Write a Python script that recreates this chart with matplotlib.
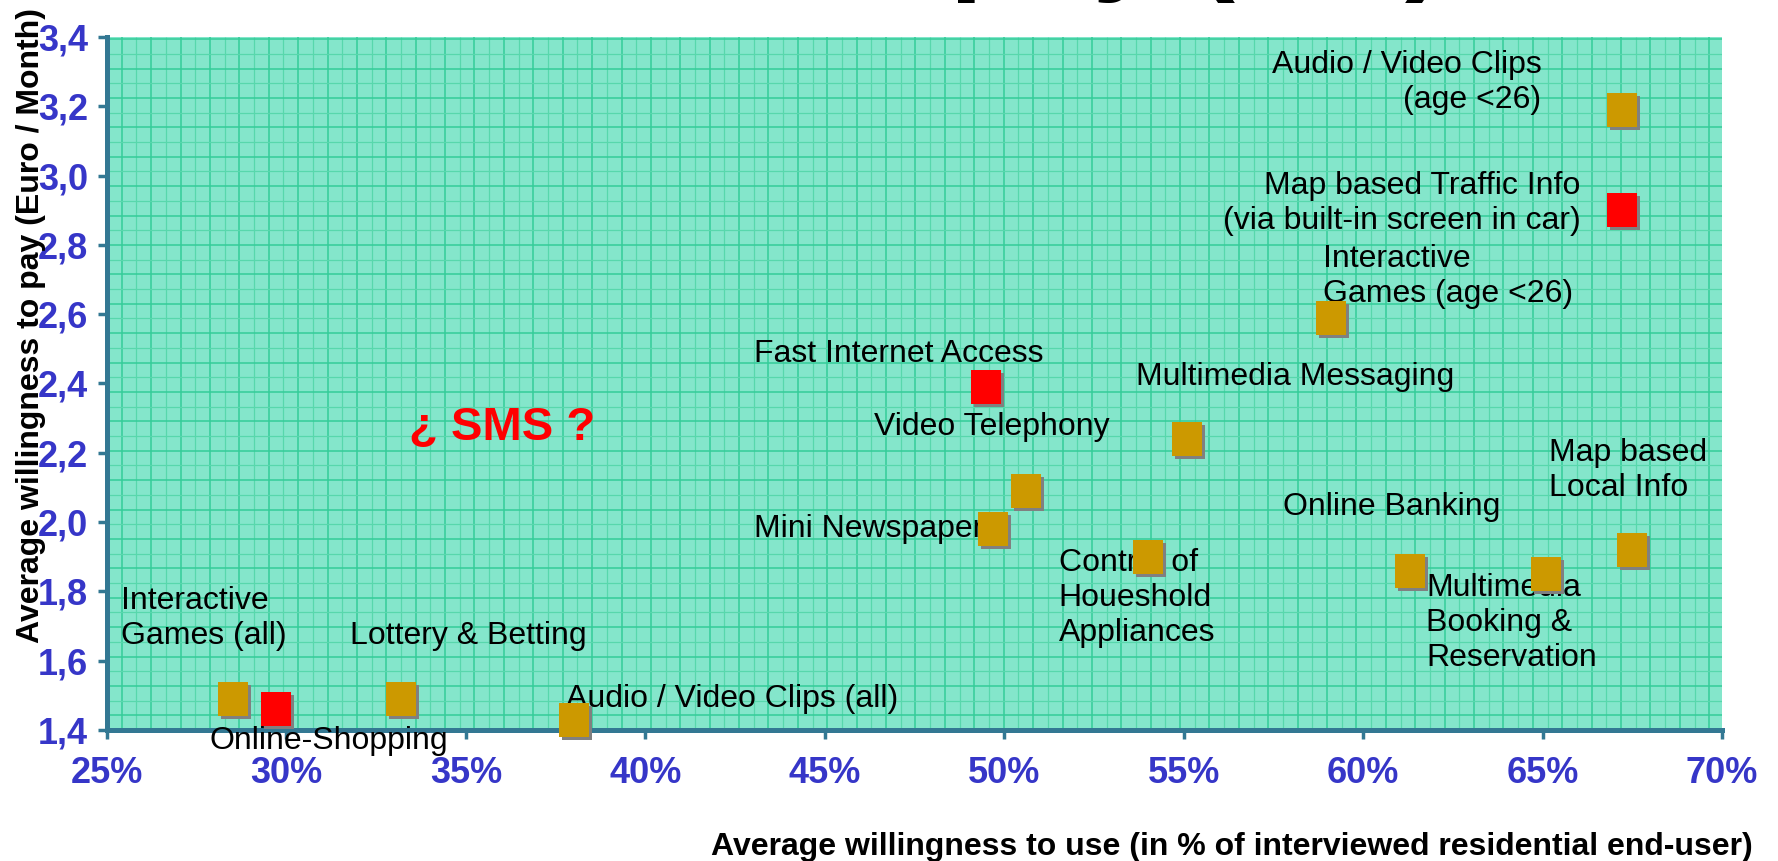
import matplotlib
matplotlib.use('Agg')
import matplotlib.pyplot as plt
from matplotlib.transforms import offset_copy
import numpy as np

plt.rcParams['font.family'] = ['Liberation Sans', 'DejaVu Sans']

# services: willingness to use (%) vs willingness to pay (Euro / month)
services = ['Interactive\nGames (all)', 'Online-Shopping', 'Lottery & Betting',
            'Audio / Video Clips (all)', 'Fast Internet Access', 'Mini Newspaper',
            'Video Telephony', 'Control of\nHoueshold\nAppliances',
            'Multimedia Messaging', 'Interactive\nGames (age <26)', 'Online Banking',
            'Multimedia\nBooking &\nReservation', 'Map based\nLocal Info',
            'Audio / Video Clips\n(age <26)',
            'Map based Traffic Info\n(via built-in screen in car)']
use_pct = [28.5, 29.7, 33.2, 38.0, 49.5, 49.7, 50.6, 54.0, 55.1, 59.1, 61.3, 65.1, 67.5, 67.2, 67.2]
pay_eur = [1.49, 1.46, 1.49, 1.43, 2.39, 1.98, 2.09, 1.90, 2.24, 2.59, 1.86, 1.85, 1.92, 3.19, 2.90]
highlight = [False, True, False, False, True, False, False, False,
             False, False, False, False, False, False, True]

x_ticks = [25, 30, 35, 40, 45, 50, 55, 60, 65, 70]
y_ticks = [1.4, 1.6, 1.8, 2.0, 2.2, 2.4, 2.6, 2.8, 3.0, 3.2, 3.4]

# label placement: pixel offset of the first line's baseline from the marker
label_pos = [(-112, 90, 'left'), (-66, -40, 'left'), (-51, 55, 'left'),
             (-8, 13, 'left'), (-232, 25, 'left'), (-10, -8, 'right'),
             (-152, 56, 'left'), (-89, -14, 'left'), (-51, 54, 'left'),
             (-8, 51, 'left'), (-127, 56, 'left'), (-120, -22, 'left'),
             (-83, 89, 'left'), (-80, 37, 'right'), (-41, 16, 'right')]
LINE_PX = 35

AX_COL = '#337893'
TICK_COL = '#3636C8'
BG = '#84E6CB'

fig = plt.figure(figsize=(17.78, 8.61), dpi=100)
ax = fig.add_axes([107/1778, 131/861, 1615/1778, 693/861])
ax.set_facecolor(BG)
ax.set_xlim(25, 70)
ax.set_ylim(1.4, 3.4)

# background grid pattern
step_x = 14.7 / 1615
step_y = 14.7 / 693
gx = np.arange(step_x, 1, step_x)
gy = np.arange(step_y, 1, step_y)
ax.vlines(gx[::2], 0, 1, transform=ax.transAxes, color='#34CC99', lw=1.1, zorder=0.5)
ax.vlines(gx[1::2], 0, 1, transform=ax.transAxes, color='#58D7AC', lw=0.9, zorder=0.5)
ax.hlines(gy[::2], 0, 1, transform=ax.transAxes, color='#34CC99', lw=1.1, zorder=0.5)
ax.hlines(gy[1::2], 0, 1, transform=ax.transAxes, color='#58D7AC', lw=0.9, zorder=0.5)

for s in ['top', 'right']:
    ax.spines[s].set_visible(False)
for s in ['left', 'bottom']:
    ax.spines[s].set_color(AX_COL)
    ax.spines[s].set_linewidth(3.6)
    ax.spines[s].set_zorder(2)

ax.set_xticks(x_ticks)
ax.set_xticklabels([f'{v}%' for v in x_ticks])
ax.set_yticks(y_ticks)
ax.set_yticklabels([f'{v:.1f}'.replace('.', ',') for v in y_ticks])
ax.tick_params(axis='both', direction='out', length=6.5, width=2.5, color=AX_COL,
               labelsize=26, labelcolor=TICK_COL)
ax.tick_params(axis='x', pad=12)
ax.tick_params(axis='y', pad=7)
for lab in ax.get_xticklabels() + ax.get_yticklabels():
    lab.set_fontweight('bold')

# square markers with a grey drop shadow
mk = [(-0.45, -0.5), (0.45, -0.5), (0.45, 0.5), (-0.45, 0.5), (-0.45, -0.5)]
colors = ['#FF0000' if h else '#CC9900' for h in highlight]
shadow = offset_copy(ax.transData, fig=fig, x=3, y=-3, units='dots')
for xv, yv, c in zip(use_pct, pay_eur, colors):
    ax.plot(xv, yv, marker=mk, ms=23.8, color='#808080', mew=0, ls='none',
            transform=shadow, zorder=3.5, clip_on=False)
    ax.plot(xv, yv, marker=mk, ms=23.8, color=c, mew=0, ls='none',
            zorder=4, clip_on=False)

# va='baseline' anchors the last line, so step down for multi-line labels
for name, xv, yv, (dx, dy, ha) in zip(services, use_pct, pay_eur, label_pos):
    dy = dy - name.count('\n') * LINE_PX
    ax.annotate(name, (xv, yv), xytext=(dx, dy), textcoords='offset pixels',
                ha=ha, va='baseline', multialignment=ha, fontsize=23,
                linespacing=1.22, color='black', zorder=3)

ax.text(0.187, 0.4185, '¿ SMS ?', transform=ax.transAxes, color='#FF0000',
        fontsize=34, fontweight='bold', va='baseline', zorder=3)

ax.set_xlabel('Average willingness to use (in % of interviewed residential end-user)',
              fontsize=23, fontweight='bold', ha='right', va='baseline')
ax.xaxis.set_label_coords(1.0192, -0.1804)
ax.set_ylabel('Average willingness to pay (Euro / Month)',
              fontsize=23, fontweight='bold', ha='center', va='center')
ax.yaxis.set_label_coords(-0.0471, 0.583)

# slide title, mostly cut off at the top of the image
fig.text(1446/1778, 1.0255, 'Willingness to use and to pay (2/2)', ha='right',
         va='baseline', fontsize=88, fontweight='bold')

fig.savefig('out.png', dpi=100)
